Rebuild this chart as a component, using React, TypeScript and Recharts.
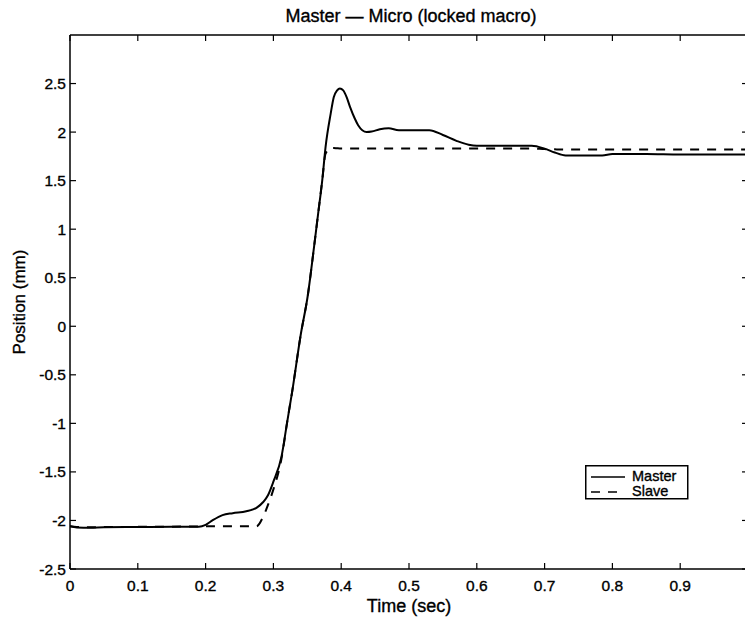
import React from 'react';
import { LineChart, Line, XAxis, YAxis, Legend } from 'recharts';

const FONT = '"Liberation Sans", Arial, Helvetica, sans-serif';

const titleText = 'Master — Micro (locked macro)';
const xLabelText = 'Time (sec)';
const yLabelText = 'Position (mm)';

const time = [
  0, 0.01, 0.03, 0.05, 0.1, 0.15, 0.19, 0.2, 0.21, 0.225, 0.24, 0.26, 0.275, 0.285,
  0.292, 0.3, 0.312, 0.32, 0.328, 0.34, 0.351, 0.36, 0.366, 0.372, 0.377, 0.3845,
  0.389, 0.394, 0.398, 0.403, 0.408, 0.413, 0.42, 0.425, 0.4375, 0.445, 0.457, 0.47,
  0.485, 0.53, 0.55, 0.57, 0.588, 0.6, 0.681, 0.7, 0.715, 0.731, 0.785, 0.8, 0.85,
  0.9, 1.0,
];

const master = [
  -2.06, -2.072, -2.075, -2.07, -2.068, -2.066, -2.064, -2.045, -2.0, -1.945, -1.925,
  -1.905, -1.87, -1.81, -1.74, -1.6, -1.34, -1.0, -0.66, -0.1, 0.33, 0.82, 1.16, 1.5,
  1.85, 2.19, 2.36, 2.43, 2.45, 2.43, 2.36, 2.26, 2.14, 2.07, 2.0, 2.005, 2.03, 2.04,
  2.02, 2.02, 1.97, 1.91, 1.87, 1.86, 1.86, 1.83, 1.79, 1.76, 1.76, 1.775, 1.775,
  1.77, 1.77,
];

const slave = [
  -2.06, -2.068, -2.07, -2.068, -2.066, -2.064, -2.062, -2.06, -2.06, -2.06, -2.06,
  -2.06, -2.06, -1.96, -1.84, -1.68, -1.36, -1.0, -0.66, -0.1, 0.33, 0.82, 1.16, 1.5,
  1.78, 1.835, 1.835, 1.833, 1.832, 1.832, 1.832, 1.831, 1.831, 1.831, 1.83, 1.83,
  1.83, 1.83, 1.83, 1.83, 1.83, 1.83, 1.83, 1.83, 1.83, 1.825, 1.822, 1.82, 1.82,
  1.82, 1.82, 1.82, 1.82,
];

const seriesNames = ['Master', 'Slave'];
const seriesKeys = ['master', 'slave'];
const seriesDash = ['', '9 8'];

const xTicks = [0, 0.1, 0.2, 0.3, 0.4, 0.5, 0.6, 0.7, 0.8, 0.9];
const yTicks = [-2.5, -2, -1.5, -1, -0.5, 0, 0.5, 1, 1.5, 2, 2.5];

const data = time.map((t, i) => ({ t, master: master[i], slave: slave[i] }));

const TEXT_STROKE = { stroke: '#000', strokeWidth: 0.35 };

const TitleLabel = (props: any) => {
  const vb = props.viewBox || { x: 70, width: 678 };
  return (
    <text x={vb.x + vb.width / 2 + 2} y={22} textAnchor="middle" fontFamily={FONT} fontSize={18} fill="#000" {...TEXT_STROKE}>
      {titleText}
    </text>
  );
};

const XLabel = (props: any) => {
  const vb = props.viewBox || { x: 70, width: 678 };
  return (
    <text x={vb.x + vb.width / 2} y={612} textAnchor="middle" fontFamily={FONT} fontSize={18} fill="#000" {...TEXT_STROKE}>
      {xLabelText}
    </text>
  );
};

const YLabel = (props: any) => {
  const vb = props.viewBox || { y: 35, height: 534 };
  const cy = vb.y + vb.height / 2;
  return (
    <text transform={`translate(25,${cy}) rotate(-90)`} textAnchor="middle" fontFamily={FONT} fontSize={17} fill="#000" {...TEXT_STROKE}>
      {yLabelText}
    </text>
  );
};

const LegendBox = (props: any) => {
  const payload = props.payload || [];
  return (
    <svg width={104} height={36} style={{ display: 'block', overflow: 'visible' }}>
      <rect x={0.75} y={0.75} width={102} height={33} fill="#fff" stroke="#000" strokeWidth={1.5} />
      {payload.map((p: any, i: number) => {
        const idx = seriesNames.indexOf(p.value);
        const dash = idx >= 0 ? seriesDash[idx] : '';
        return (
          <g key={i}>
            <line x1={6} x2={40} y1={12 + i * 15} y2={12 + i * 15} stroke="#000" strokeWidth={1.6} strokeDasharray={dash || undefined} />
            <text x={47} y={16 + i * 15} fontFamily={FONT} fontSize={14.5} fill="#000" {...TEXT_STROKE}>
              {p.value}
            </text>
          </g>
        );
      })}
    </svg>
  );
};

const axisLine = { stroke: '#000', strokeWidth: 1.5 };
const tickLine = { stroke: '#000', strokeWidth: 1.2 };
const tickStyle = { fill: '#000', fontSize: 15.5, fontFamily: FONT, stroke: '#000', strokeWidth: 0.35 };

export default function App() {
  return (
    <div style={{ position: 'absolute', left: 0, top: 0, width: 745, height: 617, overflow: 'hidden', background: '#fff' }}>
      <LineChart width={749} height={617} data={data} margin={{ top: 34, right: 0, bottom: 0, left: 0 }}>
        <XAxis
          xAxisId="b"
          dataKey="t"
          type="number"
          domain={[0, 1]}
          ticks={xTicks}
          interval={0}
          orientation="bottom"
          height={48}
          tickSize={-6}
          tickMargin={17}
          axisLine={axisLine}
          tickLine={tickLine}
          tick={tickStyle}
          label={<XLabel />}
          allowDataOverflow
        />
        <XAxis
          xAxisId="t"
          dataKey="t"
          type="number"
          domain={[0, 1]}
          ticks={xTicks}
          interval={0}
          orientation="top"
          height={1}
          tickSize={-6}
          tickFormatter={() => ''}
          axisLine={axisLine}
          tickLine={tickLine}
          label={<TitleLabel />}
          allowDataOverflow
        />
        <YAxis
          yAxisId="l"
          type="number"
          domain={[-2.5, 3]}
          ticks={yTicks}
          interval={0}
          width={70}
          tickSize={-6}
          tickMargin={10}
          axisLine={axisLine}
          tickLine={tickLine}
          tick={tickStyle}
          label={<YLabel />}
          allowDataOverflow
        />
        <YAxis
          yAxisId="r"
          orientation="right"
          type="number"
          domain={[-2.5, 3]}
          ticks={yTicks}
          interval={0}
          width={1}
          tickSize={-6}
          tickFormatter={() => ''}
          axisLine={axisLine}
          tickLine={tickLine}
          allowDataOverflow
        />
        {seriesKeys.map((k, i) => (
          <Line
            key={k}
            xAxisId="b"
            yAxisId="l"
            type="monotone"
            dataKey={k}
            name={seriesNames[i]}
            stroke="#000"
            strokeWidth={2}
            strokeDasharray={seriesDash[i] || undefined}
            dot={false}
            activeDot={false}
            isAnimationActive={false}
          />
        ))}
        <Legend
          layout="vertical"
          align="center"
          verticalAlign="middle"
          content={<LegendBox />}
          wrapperStyle={{ left: 585, top: 465, width: 104, height: 36 }}
        />
      </LineChart>
    </div>
  );
}
